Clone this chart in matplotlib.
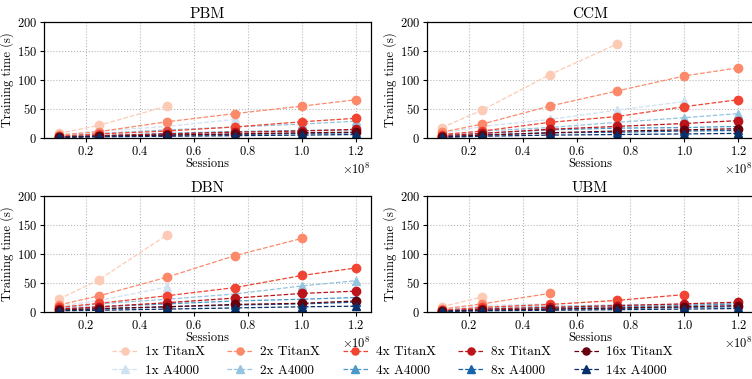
import numpy as np
import matplotlib
matplotlib.use("Agg")
import matplotlib.pyplot as plt

plt.rcParams['font.family'] = 'cmr10'
plt.rcParams['mathtext.fontset'] = 'cm'
plt.rcParams['axes.formatter.use_mathtext'] = True
plt.rcParams['font.size'] = 9

nan = np.nan
sessions = np.array([0.1e8, 0.25e8, 0.5e8, 0.75e8, 1.0e8, 1.2e8])

models = ["PBM", "CCM", "DBN", "UBM"]
titanx_labels = ["1x TitanX", "2x TitanX", "4x TitanX", "8x TitanX", "16x TitanX"]
a4000_labels = ["1x A4000", "2x A4000", "4x A4000", "8x A4000", "14x A4000"]

# training time (s), rows follow the label lists, NaN = not run (out of memory)
pbm_titanx = [[8, 22, 55, nan, nan, nan],
              [5, 11, 28, 42, 55, 66],
              [3, 7, 12, 19, 28, 34],
              [2, 4, 7, 10, 12, 15],
              [1.5, 3, 5, 7, 9, 10]]
pbm_a4000 = [[5, 12, 20, 32, nan, nan],
             [3, 8, 14, 19, 24, 29],
             [2, 4, 8, 11, 13, 14],
             [1.5, 3, 5, 6, 8, 9],
             [1, 2, 3, 4, 5, 6]]

ccm_titanx = [[18, 48, 109, 162, nan, nan],
              [10, 24, 55, 81, 107, 121],
              [6, 12, 27, 37, 54, 66],
              [4, 8, 15, 20, 25, 30],
              [2, 5, 9, 12, 14, 16]]
ccm_a4000 = [[8, 20, 32, 48, 63, nan],
             [5, 12, 18, 27, 35, 42],
             [3, 8, 14, 17, 18, 20],
             [2, 5, 9, 10, 12, 13],
             [1, 3, 5, 6, 7, 8]]

dbn_titanx = [[22, 56, 133, nan, nan, nan],
              [12, 28, 60, 97, 127, nan],
              [8, 15, 28, 42, 63, 76],
              [5, 9, 16, 24, 32, 36],
              [3, 6, 9, 13, 15, 19]]
dbn_a4000 = [[10, 20, 43, nan, nan, nan],
             [6, 14, 22, 31, 45, 54],
             [4, 9, 14, 19, 22, 25],
             [3, 5, 9, 12, 14, 17],
             [2, 3, 5, 7, 9, 10]]

ubm_titanx = [[9, 26, nan, nan, nan, nan],
              [5, 14, 32, nan, nan, nan],
              [3, 8, 13, 20, 30, nan],
              [2, 5, 8, 11, 14, 17],
              [1.5, 3, 5, 7, 9, 11]]
ubm_a4000 = [[5, 11, 14, nan, nan, nan],
             [3, 7, 10, 12, 13, 15],
             [2, 5, 7, 9, 11, 14],
             [1.5, 3, 5, 6, 8, 9],
             [1, 2, 3, 4, 5, 6]]

data = {"PBM": (pbm_titanx, pbm_a4000),
        "CCM": (ccm_titanx, ccm_a4000),
        "DBN": (dbn_titanx, dbn_a4000),
        "UBM": (ubm_titanx, ubm_a4000)}

reds = plt.cm.Reds(np.linspace(0.2, 1.0, 5))
blues = plt.cm.Blues(np.linspace(0.2, 1.0, 5))

W, H = 752, 379
fig = plt.figure(figsize=(W / 100, H / 100), dpi=100)

# axes boxes in pixels: left, top, right, bottom
boxes = [(44, 22, 371, 138), (427, 22, 753, 138),
         (44, 196, 371, 312), (427, 196, 753, 312)]

for name, (l, t, r, b) in zip(models, boxes):
    ax = fig.add_axes([l / W, 1 - b / H, (r - l) / W, (b - t) / H])
    tx, ax4 = data[name]
    for i in range(5):
        ax.plot(sessions, tx[i], ls='--', lw=0.9, marker='o', ms=6,
                color=reds[i], label=titanx_labels[i])
        ax.plot(sessions, ax4[i], ls='--', lw=0.9, marker='^', ms=6,
                color=blues[i], label=a4000_labels[i])
    ax.set_title(name, fontsize=11, pad=3)
    ax.set_ylim(0, 200)
    ax.set_yticks([0, 50, 100, 150, 200])
    ax.set_xticks([0.2e8, 0.4e8, 0.6e8, 0.8e8, 1.0e8, 1.2e8])
    ax.set_xlabel("Sessions", labelpad=0)
    ax.set_ylabel("Training time (s)", labelpad=2)
    ax.grid(True, ls=':', color='#b8b8b8', lw=0.8)
    ax.tick_params(length=3, pad=2, labelsize=9)
    ax.xaxis.get_offset_text().set_fontsize(9)
    for s in ax.spines.values():
        s.set_color('black')
        s.set_linewidth(0.9)
    if name == "PBM":
        handles, labels = ax.get_legend_handles_labels()

# handles alternate TitanX / A4000, so with ncol=5 (column-wise fill)
# TitanX ends up in the first row and A4000 in the second
fig.legend(handles, labels, ncol=5, loc='lower center',
           bbox_to_anchor=(0.522, -0.025), frameon=False, fontsize=9.5,
           columnspacing=1.7, handlelength=1.9, handletextpad=0.6,
           labelspacing=0.45, markerscale=0.85)

fig.savefig("out.png", dpi=100)
